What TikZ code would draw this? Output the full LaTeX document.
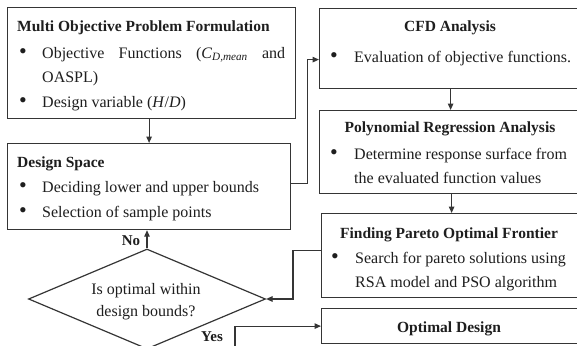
\documentclass[tikz,border=0pt]{standalone}
\usepackage{fontspec}
\setmainfont{Liberation Serif}
\usetikzlibrary{shapes.geometric,arrows.meta}
\definecolor{ln}{HTML}{353535}
\definecolor{tx}{HTML}{1E1E1E}
\begin{document}
\begin{tikzpicture}[x=1pt,y=-1pt,
  box/.style={draw=ln,line width=1.2pt,rectangle,inner sep=0pt,anchor=north west},
  txt/.style={anchor=base west,inner sep=0pt,text=tx,font=\fontsize{16}{24}\selectfont},
  hdr/.style={anchor=base,inner sep=0pt,text=tx,font=\bfseries\fontsize{15.5}{20}\selectfont},
  hdrl/.style={anchor=base west,inner sep=0pt,text=tx,font=\bfseries\fontsize{15.5}{20}\selectfont},
  bul/.style={anchor=base,inner sep=0pt,text=tx,font=\fontsize{22}{24}\selectfont},
  dtxt/.style={anchor=base,inner sep=0pt,text=tx,font=\fontsize{16}{24}\selectfont},
  conn/.style={draw=ln,line width=1.2pt,-{Triangle[length=6.5pt,width=5.5pt]}},
  lbl/.style={inner sep=0pt,text=tx,font=\bfseries\fontsize{15}{18}\selectfont}]
\useasboundingbox (0,0) rectangle (577,345);
\clip (0,0) rectangle (577,345);
\fill[white] (0,0) rectangle (577,345);
% boxes
\node[box,minimum width=288pt,minimum height=111pt] (mop) at (7,7) {};
\node[box,minimum width=283pt,minimum height=86pt] (ds) at (7,143) {};
\node[box,minimum width=262pt,minimum height=80pt] (cfd) at (319,8) {};
\node[box,minimum width=262pt,minimum height=83pt] (poly) at (319,110) {};
\node[box,minimum width=260pt,minimum height=84pt] (par) at (321,213) {};
\node[box,minimum width=260pt,minimum height=35pt] (opt) at (321,308) {};
\node[draw=ln,line width=1.2pt,diamond,inner sep=0pt,minimum width=237pt,minimum height=100pt] (dec) at (147,299) {};
% box 1 text
\node[hdrl] (t1) at (17,32) {Multi Objective Problem Formulation};
\node[bul] (b11) at (23,58) {•};
\node[txt] (t11) at (42,58) {\makebox[243pt][s]{Objective\hfill Functions\hfill (\textit{C}\textsubscript{\textit{D,mean}}\hfill and}};
\node[txt] (t12) at (42,82) {OASPL)};
\node[bul] (b12) at (23,107) {•};
\node[txt] (t13) at (42,107) {Design variable (\textit{H}/\textit{D})};
% box 2 text
\node[hdrl] (t2) at (17,167) {Design Space};
\node[bul] (b21) at (23,192) {•};
\node[txt] (t21) at (42,192) {Deciding lower and upper bounds};
\node[bul] (b22) at (23,217) {•};
\node[txt] (t22) at (42,217) {Selection of sample points};
% CFD
\node[hdr] (t3) at (450,32) {CFD Analysis};
\node[bul] (b31) at (334,63) {•};
\node[txt] (t31) at (354,63) {Evaluation of objective functions.};
% Poly
\node[hdr] (t4) at (450,132) {Polynomial Regression Analysis};
\node[bul] (b41) at (334,159) {•};
\node[txt] (t41) at (354,159) {Determine response surface from};
\node[txt] (t42) at (354,183) {the evaluated function values};
% Pareto
\node[hdr] (t5) at (449,238) {Finding Pareto Optimal Frontier};
\node[bul] (b51) at (335,263) {•};
\node[txt] (t51) at (355,263) {Search for pareto solutions using};
\node[txt] (t52) at (355,287) {RSA model and PSO algorithm};
% Optimal
\node[hdr] (t6) at (449,332) {Optimal Design};
% diamond text
\node[dtxt] (d1) at (146,294) {Is optimal within};
\node[dtxt] (d2) at (146,316) {design bounds?};
% labels
\node[lbl] (no) at (131,241) {No};
\node[lbl] (yes) at (212,337) {Yes};
% connectors
\draw[conn] (ds.north |- mop.south) -- (ds.north);
\draw[conn] ([yshift=3pt]ds.east) -- ++(16,0) |- ([yshift=-11pt]cfd.west);
\draw[conn] (cfd.south) -- (poly.north);
\draw[conn] (par.north |- poly.south) -- (par.north);
\draw[conn] ([yshift=5pt]par.west) -- ++(-28,0) |- (dec.east);
\draw[conn] (dec.north) -- (dec.north |- ds.south);
\coordinate (yb) at (235,346);
\draw[conn] (yb) |- (opt.west);
\end{tikzpicture}
\end{document}
